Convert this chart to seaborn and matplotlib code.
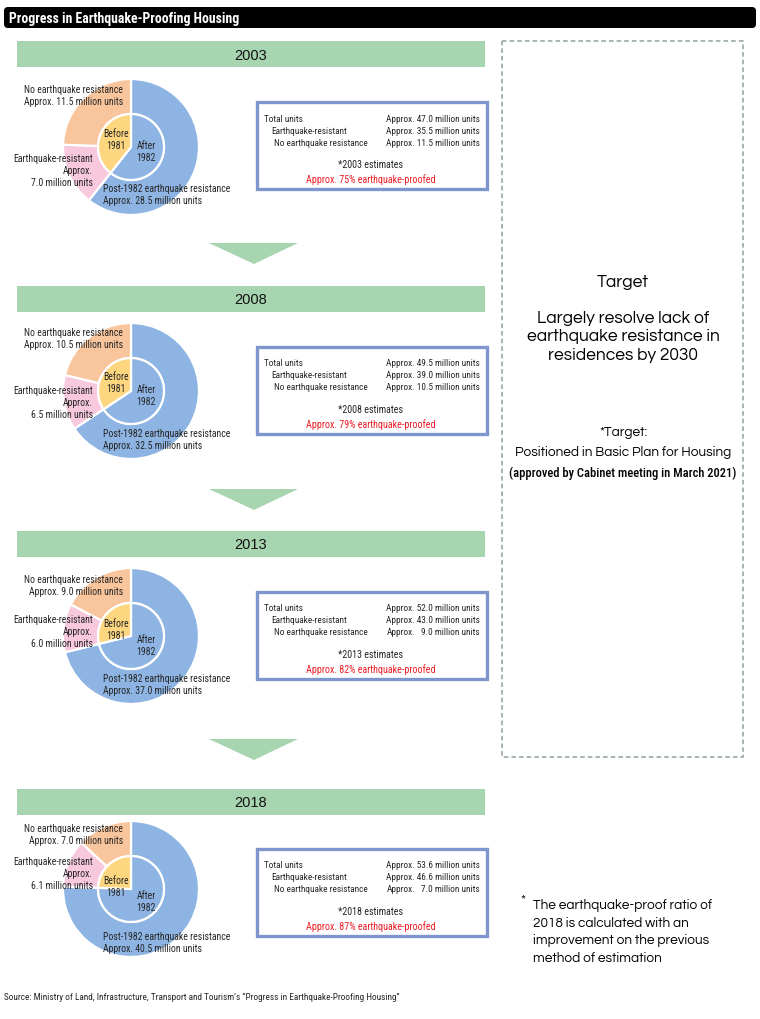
import matplotlib
matplotlib.use("Agg")
import matplotlib.pyplot as plt
import seaborn as sns
from matplotlib.patches import Rectangle, FancyBboxPatch, Polygon

# data (million units)
years = ["2003", "2008", "2013", "2018"]
after_1982 = [28.5, 32.5, 37.0, 40.5]
resistant_pre = [7.0, 6.5, 6.0, 6.1]
no_resistance = [11.5, 10.5, 9.0, 7.0]
total_units = [47.0, 49.5, 52.0, 53.6]
resistant_total = [35.5, 39.0, 43.0, 46.6]
proof_ratio = [75, 79, 82, 87]

sns.set_theme(style="white")
plt.rcParams["font.family"] = ["Roboto Condensed", "DejaVu Sans"]
NARROW = ["Roboto Condensed", "DejaVu Sans"]
ROUND = ["Questrial", "DejaVu Sans"]

W, H = 760, 1020
fig = plt.figure(figsize=(7.6, 10.2), dpi=100)
bg = fig.add_axes([0, 0, 1, 1], zorder=0)
bg.set_xlim(0, W)
bg.set_ylim(H, 0)
bg.axis("off")

blue = "#8db4e2"
pink = "#f8c9dd"
peach = "#f9c59c"
yellow = "#fdd67f"
green = "#a7d5b0"
frame = "#7f95cd"
red = "#ee1c25"

# title bar
bg.add_patch(FancyBboxPatch((4, 8), 752, 21, boxstyle="round,pad=0,rounding_size=4",
                            fc="black", ec="none"))

pie_cy = [148, 392, 637, 890]
banner_y = [42, 287, 532, 790]
box_y = [103, 348, 593, 850]
tri_y = [244, 490, 740]
cx, R, r_in = 131, 68, 33

for y in banner_y:
    bg.add_patch(Rectangle((17, y), 468, 26, fc=green, ec="none"))
for y in tri_y:
    bg.add_patch(Polygon([(209, y), (298, y), (254, y + 21)], closed=True, fc=green, ec="none"))
for y in box_y:
    bg.add_patch(Rectangle((256.5, y), 230, 87, fc="white", ec=frame, lw=2.4))

bg.add_patch(Rectangle((502, 42), 241, 716, fc="none", ec="#8fa0a3", lw=1.1,
                       ls=(0, (3, 2))))

# pies
for i, cy in enumerate(pie_cy):
    ax = fig.add_axes([(cx - R - 1) / W, 1 - (cy + R + 1) / H, (2 * R + 2) / W, (2 * R + 2) / H],
                      zorder=1)
    ax.pie([after_1982[i], resistant_pre[i], no_resistance[i]], radius=1.0, startangle=90,
           counterclock=False, colors=[blue, pink, peach],
           wedgeprops=dict(width=1 - r_in / R, edgecolor="white", linewidth=1.6))
    ax.pie([after_1982[i], resistant_pre[i] + no_resistance[i]], radius=r_in / R, startangle=90,
           counterclock=False, colors=[blue, yellow],
           wedgeprops=dict(edgecolor="white", linewidth=1.6))
    ax.set_xlim(-1.015, 1.015)
    ax.set_ylim(-1.015, 1.015)
    ax.set_aspect("auto")
    ax.axis("off")

tx = fig.add_axes([0, 0, 1, 1], zorder=2)
tx.set_xlim(0, W)
tx.set_ylim(H, 0)
tx.axis("off")
tx.patch.set_alpha(0)

tx.text(9, 18.5, "Progress in Earthquake-Proofing Housing", color="white", fontsize=9.9,
        fontweight="bold", va="center", ha="left", family=NARROW)

# label offsets from pie centre (pixels)
no_dy = [-52, -53, -51, -55]
res_dy = [23, 11, -5, -16]
before_dy = [-8, -9, -7, -3]
after_dy = [4, 4, 9, 12]
post_dy = [47, 48, 48, 53]
fs = 7.0
bfs = 6.7

for i, cy in enumerate(pie_cy):
    by = banner_y[i]
    tx.text(251, by + 13.5, years[i], fontsize=10.5, ha="center", va="center",
            family=["Liberation Sans", "DejaVu Sans"], color="#111111")
    tx.text(123, cy + no_dy[i],
            f"No earthquake resistance\nApprox. {no_resistance[i]:.1f} million units",
            fontsize=fs, ha="right", va="center", linespacing=1.2)
    tx.text(93, cy + res_dy[i],
            f"Earthquake-resistant\nApprox.\n{resistant_pre[i]:.1f} million units",
            fontsize=fs, ha="right", va="center", linespacing=1.2)
    tx.text(116, cy + before_dy[i], "Before\n1981", fontsize=fs, ha="center", va="center",
            linespacing=1.2)
    tx.text(146, cy + after_dy[i], "After\n1982", fontsize=fs, ha="center", va="center",
            linespacing=1.2)
    tx.text(103, cy + post_dy[i],
            f"Post-1982 earthquake resistance\nApprox. {after_1982[i]:.1f} million units",
            fontsize=fs, ha="left", va="center", linespacing=1.2)

    y0 = box_y[i]
    rows = [("Total units", total_units[i], 264),
            ("Earthquake-resistant", resistant_total[i], 271),
            ("No earthquake resistance", no_resistance[i], 274)]
    for k, (lab, val, lx) in enumerate(rows):
        yy = y0 + 16 + 12 * k
        tx.text(lx, yy, lab, fontsize=bfs, ha="left", va="center")
        if val >= 10:
            tx.text(480, yy, f"Approx. {val:.1f} million units", fontsize=bfs, ha="right",
                    va="center")
        else:
            tx.text(387, yy, "Approx.", fontsize=bfs, ha="left", va="center")
            tx.text(480, yy, f"{val:.1f} million units", fontsize=bfs, ha="right", va="center")
    tx.text(371, y0 + 62, f"*{years[i]} estimates", fontsize=bfs + 0.5, ha="center",
            va="center")
    tx.text(371, y0 + 77, f"Approx. {proof_ratio[i]}% earthquake-proofed", fontsize=bfs + 0.5,
            ha="center", va="center", color=red)

# target panel
tx.text(623, 283, "Target", fontsize=12.5, ha="center", va="center", family=ROUND,
        color="black")
tx.text(623, 337, "Largely resolve lack of\nearthquake resistance in\nresidences by 2030",
        fontsize=12.5, ha="center", va="center", family=ROUND, linespacing=1.3,
        color="black")
tx.text(623, 433, "*Target:", fontsize=9.7, ha="center", va="center", family=ROUND,
        color="black")
tx.text(623, 453, "Positioned in Basic Plan for Housing", fontsize=9.7, ha="center",
        va="center", family=ROUND, color="black")
tx.text(623, 473, "(approved by Cabinet meeting in March 2021)", fontsize=9.0, ha="center",
        va="center", family=NARROW, fontweight="medium", color="black")

tx.text(523, 900, "*", fontsize=9.7, ha="center", va="center", family=ROUND, color="black")
tx.text(533, 932, "The earthquake-proof ratio of\n2018 is calculated with an\n"
        "improvement on the previous\nmethod of estimation", fontsize=9.7, ha="left",
        va="center", family=ROUND, linespacing=1.45, color="black")

tx.text(4, 997, "Source: Ministry of Land, Infrastructure, Transport and Tourism\u2019s "
        "\u201cProgress in Earthquake-Proofing Housing\u201d", fontsize=6.7, ha="left",
        va="center")

fig.savefig("out.png", dpi=100)
